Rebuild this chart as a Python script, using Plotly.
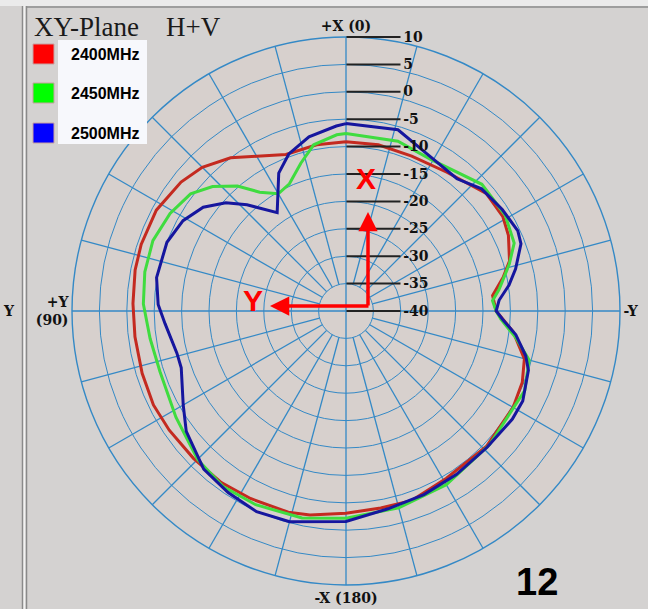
import plotly.graph_objects as go

# series (frequency) names and colours
SERIES = ["2400MHz", "2450MHz", "2500MHz"]
LINE_COLORS = ["#c42a20", "#3fdc3f", "#16169e"]
KEY_COLORS = ["#ff0000", "#00ff00", "#0000ff"]

# gain in dB, angle counter-clockwise from +X (top)
THETA_2400 = [0, 10, 21, 30, 37, 45, 52, 62, 72, 79, 88, 97, 107, 116, 124, 134, 144, 153,
              164, 170, 180, 190, 199, 211, 226, 240, 248, 255, 263, 270, 276, 282, 287,
              295, 301, 310, 324, 337, 349]
DB_2400 = [-9.1, -9.2, -9.4, -7.4, -5.0, -2.9, -1.8, -0.8, -0.7, -0.8, -1.1, -1.2, -1.1, -0.9,
           -1.1, -1.3, -1.3, -1.6, -1.8, -2.2, -3.1, -3.5, -3.4, -4.4, -4.4, -4.8, -5.3, -6.3,
           -9.3, -12.6, -13.1, -10.7, -8.8, -7.3, -6.6, -6.6, -8.7, -9.3, -9.1]

THETA_2450 = [0, 3, 11, 17, 24, 30, 36, 41, 47, 53, 61, 70, 79, 88, 98, 108, 122, 135, 145,
              155, 168, 180, 195, 210, 227, 246, 255, 261, 267, 270, 274, 278, 286, 292,
              301, 313, 331, 343]
DB_2450 = [-7.6, -7.8, -9.1, -11.8, -14.6, -15.3, -13.2, -9.8, -6.7, -4.5, -3.3, -2.5, -2.6,
           -3.0, -3.9, -4.3, -3.4, -1.7, -0.9, -1.0, -1.4, -2.2, -2.8, -3.4, -4.2, -4.3, -5.4,
           -8.6, -11.7, -12.6, -13.2, -11.8, -9.0, -6.9, -6.1, -6.1, -8.3, -7.6]

THETA_2500 = [0, 3, 12, 20, 26, 35, 43, 48, 54, 61, 69, 80, 88, 94, 104, 109, 120, 127, 138,
              147, 156, 165, 180, 192, 203, 214, 226, 237, 243, 252, 256, 262, 267, 270, 274,
              279, 284, 291, 295, 303, 312, 320, 333, 344]
DB_2500 = [-5.8, -6.2, -7.5, -9.5, -12.0, -18.1, -13.5, -10.5, -7.8, -6.0, -5.0, -4.9, -5.7,
           -6.9, -8.2, -8.2, -5.7, -3.5, -1.2, -0.5, 0.1, -0.2, -1.6, -3.1, -3.6, -4.0, -4.2,
           -3.8, -3.8, -5.0, -6.2, -8.7, -11.4, -12.6, -12.0, -9.9, -8.1, -5.8, -5.4, -6.0,
           -6.7, -8.5, -7.7, -5.6]

RADIAL_TICKS = [10, 5, 0, -5, -10, -15, -20, -25, -30, -35, -40]
ANGLE_TICKS = [0, 15, 30, 45, 60, 75, 90, 105, 120, 135, 150, 165, 180,
               195, 210, 225, 240, 255, 270, 285, 300, 315, 330, 345]
ANGLE_LABELS = {0: "+X (0)", 90: "+Y<br>(90)", 180: "-X (180)", 270: "-Y"}

W, H = 648, 609
GRID = "#3489c6"
SERIF = "Liberation Serif"
TICKFONT = "DejaVu Serif"


def px(x):
    return x / W


def py(y):
    return 1 - y / H


fig = go.Figure()

# spokes: the main axes run to the centre, the others stop at the first ring
spoke_r, spoke_t = [], []
for a in ANGLE_TICKS:
    spoke_r += [-40 if a % 90 == 0 else -35, 10, None]
    spoke_t += [a, a, None]
fig.add_trace(go.Scatterpolar(
    r=spoke_r, theta=spoke_t, mode="lines", line=dict(color=GRID, width=1.3),
    hoverinfo="skip", showlegend=False,
))

for name, color, th, db in zip(SERIES, LINE_COLORS,
                               [THETA_2400, THETA_2450, THETA_2500],
                               [DB_2400, DB_2450, DB_2500]):
    fig.add_trace(go.Scatterpolar(
        r=db + db[:1], theta=th + th[:1], mode="lines", name=name,
        line=dict(color=color, width=3), showlegend=False,
    ))

fig.update_layout(
    width=W, height=H,
    margin=dict(l=0, r=0, t=0, b=0),
    paper_bgcolor="#d4d2d1",
    polar=dict(
        domain=dict(x=[px(72), px(620)], y=[py(585), py(37)]),
        bgcolor="#d7d0cd",
        angularaxis=dict(
            rotation=90, direction="counterclockwise",
            tickmode="array", tickvals=ANGLE_TICKS,
            ticktext=[ANGLE_LABELS.get(a, "") for a in ANGLE_TICKS],
            ticks="", showgrid=False,
            showline=True, linecolor=GRID, linewidth=1.4,
            tickfont=dict(family=TICKFONT, size=14, color="#111", weight="bold"),
        ),
        radialaxis=dict(
            range=[-40, 10], tickmode="array", tickvals=RADIAL_TICKS,
            ticktext=[str(v) for v in RADIAL_TICKS],
            angle=90, tickangle=90, side="clockwise",
            ticks="outside", ticklen=54, tickwidth=1.5, tickcolor="#222",
            showline=False, showgrid=True, gridcolor=GRID, gridwidth=1.3,
            tickfont=dict(family=TICKFONT, size=14, color="#111", weight="bold"),
        ),
    ),
)

shapes = [
    # window frame
    dict(type="rect", xref="paper", yref="paper", x0=0, x1=1, y0=py(6), y1=1,
         fillcolor="#ebebeb", line_width=0),
    dict(type="line", xref="paper", yref="paper", x0=px(26), x1=1, y0=py(7), y1=py(7),
         line=dict(color="#8c8c8c", width=1.5)),
    dict(type="line", xref="paper", yref="paper", x0=px(22.5), x1=px(22.5), y0=0, y1=py(6),
         line=dict(color="#8a8a8a", width=1.5)),
    dict(type="line", xref="paper", yref="paper", x0=px(24.5), x1=px(24.5), y0=0, y1=py(6),
         line=dict(color="#f2f2f2", width=2)),
    dict(type="line", xref="paper", yref="paper", x0=px(26.5), x1=px(26.5), y0=0, y1=py(6),
         line=dict(color="#8a8a8a", width=1.5)),
    # legend box
    dict(type="rect", xref="paper", yref="paper", x0=px(58), x1=px(147), y0=py(144), y1=py(40),
         fillcolor="#f7f8fc", line_width=0),
]

annotations = [
    dict(text="XY-Plane", x=px(32), y=py(27), xanchor="left", yanchor="middle",
         font=dict(family=SERIF, size=27, color="#1a1a1a")),
    dict(text="H+V", x=px(164), y=py(27), xanchor="left", yanchor="middle",
         font=dict(family=SERIF, size=27, color="#1a1a1a")),
    dict(text="Y", x=px(1), y=py(311), xanchor="left", yanchor="middle",
         font=dict(family=TICKFONT, size=14, color="#111", weight="bold")),
    dict(text="12", x=px(537), y=py(582), xanchor="center", yanchor="middle",
         font=dict(family="Liberation Sans", size=38, color="#000", weight="bold")),
    dict(text="X", x=px(366), y=py(179), xanchor="center", yanchor="middle",
         font=dict(family="Liberation Sans", size=30, color="#ff0000", weight="bold")),
    dict(text="Y", x=px(253), y=py(300), xanchor="center", yanchor="middle",
         font=dict(family="Liberation Sans", size=30, color="#ff0000", weight="bold")),
    # red axis arrows
    dict(text="", x=px(368), y=py(212), ax=0, ay=95, showarrow=True, arrowhead=2,
         arrowsize=1.1, arrowwidth=3.5, arrowcolor="#ff0000", standoff=0),
    dict(text="", x=px(270), y=py(306), ax=100, ay=0, showarrow=True, arrowhead=2,
         arrowsize=1.1, arrowwidth=3.5, arrowcolor="#ff0000", standoff=0),
]

key_y = [54, 93, 133]
for name, color, yc in zip(SERIES, KEY_COLORS, key_y):
    shapes.append(dict(type="rect", xref="paper", yref="paper",
                       x0=px(33), x1=px(54), y0=py(yc + 10), y1=py(yc - 10),
                       fillcolor=color, line=dict(color="#c8a0a0", width=1)))
    annotations.append(dict(text=name, x=px(69), y=py(yc), xanchor="left", yanchor="middle",
                            font=dict(family="Liberation Sans", size=16, color="#000",
                                      weight="bold")))

for a in annotations:
    a.setdefault("xref", "paper")
    a.setdefault("yref", "paper")
    a.setdefault("showarrow", False)

fig.update_layout(shapes=shapes, annotations=annotations)

fig.write_html("out.html", config={"displayModeBar": False},
               post_script="document.body.style.margin='0';")
